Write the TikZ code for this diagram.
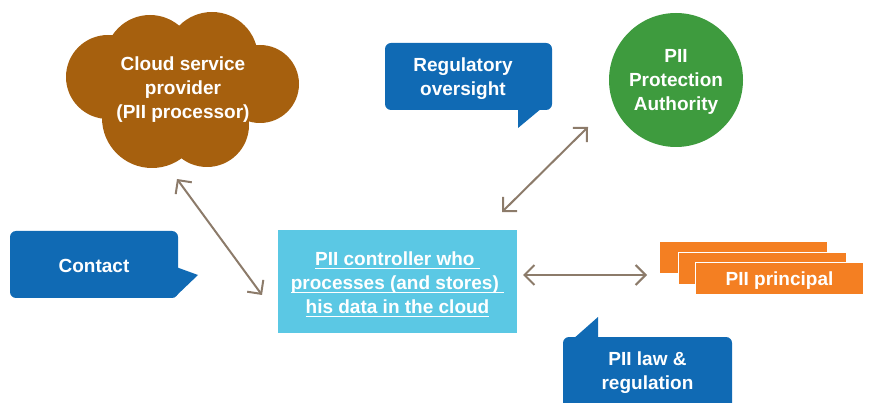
\documentclass[tikz,border=0pt]{standalone}
\usepackage{fontspec}
\setmainfont{Liberation Sans}
\usetikzlibrary{arrows.meta}
\definecolor{cloudbrown}{RGB}{166,96,14}
\definecolor{calloutblue}{RGB}{16,106,180}
\definecolor{authgreen}{RGB}{62,155,62}
\definecolor{principalorange}{RGB}{244,127,34}
\definecolor{controllercyan}{RGB}{91,200,228}
\definecolor{linkgray}{RGB}{140,123,106}
% underline that keeps trailing spaces and sits at a fixed depth
\newcommand\ulline[1]{\setbox0\hbox{#1}\rlap{\rule[-3.8pt]{\wd0}{1.4pt}}\box0}
\begin{document}
\begin{tikzpicture}[x=1pt,y=-1pt,
  lbl/.style={text=white, font=\bfseries\fontsize{19}{24}\selectfont, align=center, inner sep=0pt},
  callout/.style={fill=calloutblue, rounded corners=6pt},
  pbox/.style={fill=principalorange, draw=white, line width=0.8pt, minimum width=168, minimum height=32, inner sep=0pt},
  link/.style={linkgray, line width=2pt, {Straight Barb[length=10pt,width=20pt]}-{Straight Barb[length=10pt,width=20pt]}},
]
\useasboundingbox (0,0) rectangle (870,403);
\clip (0,0) rectangle (870,403);

% cloud service provider
\fill[cloudbrown] (108,77) circle (42) (150,60) circle (45) (212,58) circle (46)
  (260,84) circle (39) (152,118) circle (50) (207,125) circle (42) (185,92) circle (52);
\node[lbl] (cloud) at (183,89.5) {Cloud service\\provider\\(PII processor)};

% regulatory oversight callout
\fill[callout] (385,43) rectangle (552,110);
\fill[calloutblue] (518,108) -- (518,128) -- (542,108) -- cycle;
\node[lbl] (reg) at (463,79) {Regulatory\\oversight};

% PII protection authority
\node[circle, fill=authgreen, minimum size=134, inner sep=0pt] (pa) at (676,80) {};
\node[lbl] (patext) at (676,81.5) {PII\\Protection\\Authority};

% contact callout
\fill[callout] (10,231) rectangle (178,298);
\fill[calloutblue] (176,267) -- (198,275) -- (176,296) -- cycle;
\node[lbl] (contact) at (94,266) {Contact};

% PII controller
\node[fill=controllercyan, minimum width=239, minimum height=103, inner sep=0pt] (ctrl) at (397.5,281.5) {};
\node[lbl] (ctrltext) at (397.5,284.5) {\ulline{PII controller who\ }\\\ulline{processes (and stores)\ }\\\ulline{his data in the cloud}};

% PII principal stack
\node[pbox] (p1) at (743.5,257.5) {};
\node[pbox] (p2) at (762,268.5) {};
\node[pbox] (p3) at (779.5,278.5) {};
\node[lbl] (principal) at (779.5,280.5) {PII principal};

% PII law and regulation callout
\fill[callout] (563,337) rectangle (732,420);
\fill[calloutblue] (572,340) -- (598,317) -- (598,340) -- cycle;
\node[lbl] (law) at (647.5,373) {PII law \&\\regulation};

% relations
\coordinate (cloudend) at (177,179);
\coordinate (ctrlwest) at (262,295);
\coordinate (ctrlnorth) at (502,212);
\coordinate (paend) at (588,127);
\coordinate (ctrleast) at (523,275);
\coordinate (principalend) at (647,275);
\draw[link] (cloudend) -- (ctrlwest);
\draw[link] (ctrlnorth) -- (paend);
\draw[link] (ctrleast) -- (principalend);
\end{tikzpicture}
\end{document}
